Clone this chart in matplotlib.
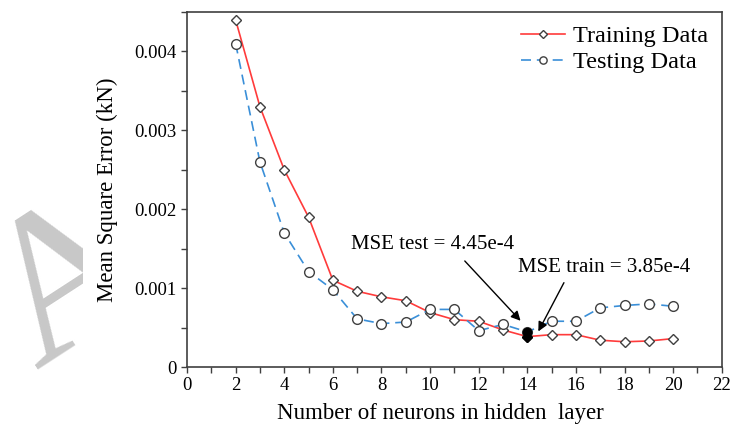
import matplotlib
matplotlib.use("Agg")
import matplotlib.pyplot as plt
from matplotlib.ticker import MultipleLocator, FuncFormatter
from matplotlib.patches import Rectangle

plt.rcParams['font.family'] = ['Liberation Serif', 'DejaVu Serif']

# MSE versus number of hidden neurons
neurons = [2, 3, 4, 5, 6, 7, 8, 9, 10, 11, 12, 13, 14, 15, 16, 17, 18, 19, 20]
mse_train = [0.0044, 0.0033, 0.0025, 0.0019, 0.0011, 0.00096, 0.00089, 0.00084,
             0.00069, 0.0006, 0.00058, 0.00047, 0.000385, 0.00041, 0.00041,
             0.00034, 0.00032, 0.00033, 0.00036]
mse_test = [0.0041, 0.0026, 0.0017, 0.00121, 0.00098, 0.00061, 0.00055, 0.00057,
            0.00073, 0.00073, 0.00046, 0.00054, 0.000445, 0.00058, 0.00058,
            0.00075, 0.00078, 0.0008, 0.00077]
best_n = 14
best_train = 3.85e-4
best_test = 4.45e-4

edge = '#404040'

fig = plt.figure(figsize=(7.32, 4.30), dpi=100)
ax = fig.add_axes([0.2555, 0.1465, 0.7305, 0.8255])

ax.plot(neurons, mse_train, color='#ff3b3b', lw=1.2, marker='D', ms=5,
        mfc='white', mec=edge, mew=1.0, label='Training Data', zorder=3)
ax.plot(neurons, mse_test, color='#3a8fd8', lw=1.2, ls=(0, (6, 3.5)), marker='o',
        ms=7, mfc='white', mec=edge, mew=1.0, label='Testing Data', zorder=3)

# optimum neuron count highlighted in black
ax.plot([best_n], [best_test], marker='o', ms=6, color='black', zorder=4)
ax.plot([best_n], [best_train], marker='D', ms=5, color='black', zorder=4)

ax.text(6.75, 0.00155, f'MSE test = {best_test:.2e}'.replace('e-04', 'e-4'),
        fontsize=15, va='center', ha='left')
ax.annotate('', xy=(13.8, 0.00056), xytext=(11.35, 0.00137),
            arrowprops=dict(arrowstyle='-|>', color='black', lw=1, mutation_scale=14))
ax.text(13.62, 0.00126, f'MSE train = {best_train:.2e}'.replace('e-04', 'e-4'),
        fontsize=15, va='center', ha='left')
ax.annotate('', xy=(14.4, 0.00042), xytext=(15.56, 0.0011),
            arrowprops=dict(arrowstyle='-|>', color='black', lw=1, mutation_scale=14))

ax.set_xlim(0, 22)
ax.set_ylim(0, 0.0045)
ax.xaxis.set_major_locator(MultipleLocator(2))
ax.xaxis.set_minor_locator(MultipleLocator(1))
ax.yaxis.set_major_locator(MultipleLocator(0.001))
ax.yaxis.set_minor_locator(MultipleLocator(0.0005))
ax.yaxis.set_major_formatter(FuncFormatter(lambda v, p: '0' if v == 0 else f'{v:.3f}'))
ax.tick_params(which='both', direction='out', length=4, width=1, color=edge,
               labelsize=13.5, top=False, right=False)
for s in ax.spines.values():
    s.set_color(edge)
    s.set_linewidth(1.2)

ax.set_xlabel('Number of neurons in hidden  layer', fontsize=16.5, labelpad=6, x=0.473)
ax.set_ylabel('Mean Square Error (kN)', fontsize=16.5, labelpad=12)

ax.legend(loc='upper right', frameon=False, fontsize=17.5, handlelength=1.8,
          handletextpad=0.35, labelspacing=0.15, borderaxespad=0.15,
          markerscale=0.75)

# grey letter stamped over the left margin
wm = fig.text(0.135, 0.237, 'A', fontsize=150, color='#c8c8c8', rotation=33,
              rotation_mode='anchor', ha='center', va='baseline', zorder=0)
clip = Rectangle((0, 0), 83 / 732, 1, transform=fig.transFigure)
wm.set_clip_path(clip)

fig.savefig('out.png', dpi=100)
